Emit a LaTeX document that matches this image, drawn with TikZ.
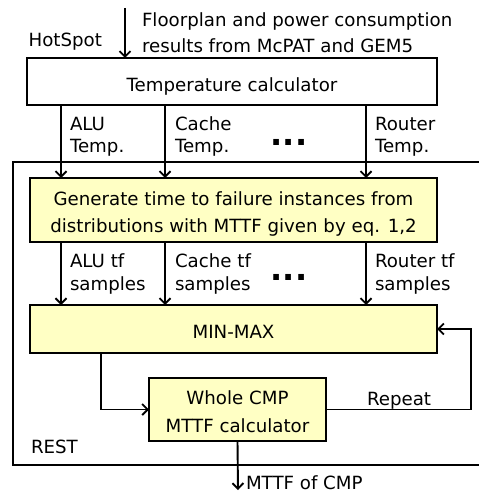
\documentclass[tikz,border=0pt]{standalone}
\usepackage{fontspec}
\setmainfont{DejaVu Sans}
\usetikzlibrary{arrows.meta}
\definecolor{boxfill}{HTML}{FFFFC4}
\tikzset{
  x=1pt, y=-1pt,
  every node/.style={inner sep=0pt, outer sep=0pt},
  txt/.style={font=\fontsize{18.2}{27}\selectfont},
  lbl/.style={font=\fontsize{18.2}{22.5}\selectfont, align=left, anchor=base west},
  blk/.style={draw, line width=1.9pt, align=center, txt},
  arr/.style={line width=1.9pt, -{Straight Barb[length=5.5pt, width=11pt]}},
  dots/.style={font=\fontsize{32}{32}\bfseries\selectfont}
}
\begin{document}
\begin{tikzpicture}
\useasboundingbox (0,0) rectangle (478,494);

% outer REST frame, running past the right edge
\node[draw, line width=1.9pt, minimum width=507pt, minimum height=303pt] (rest) at (266.5,313.5) {};
\node[txt, anchor=base west] (restlbl) at (31,453) {REST};

% blocks
\node[blk, minimum width=410pt, minimum height=47pt] (temp) at (232,81.5) {};
\node[txt, anchor=base] (templbl) at (temp.center |- 0,91.5) {Temperature calculator};
\node[blk, fill=boxfill, minimum width=407pt, minimum height=64pt] (gen) at (233.5,210) {};
\node[txt, align=center, anchor=base] (genlbl) at (gen.center |- 0,232)
  {Generate time to failure instances from\\distributions with MTTF given by eq. 1,2};
\node[blk, fill=boxfill, minimum width=407pt, minimum height=48pt] (minmax) at (233.5,329) {};
\node[txt, anchor=base] (mmlbl) at (minmax.center |- 0,338) {MIN-MAX};
\node[blk, fill=boxfill, minimum width=177pt, minimum height=63pt] (whole) at (237.5,409.5) {};
\node[txt, align=center, anchor=base, font=\fontsize{18.2}{28}\selectfont] (wholelbl) at (whole.center |- 0,432)
  {Whole CMP\\MTTF calculator};

% column positions of the per-unit arrows
\coordinate (c1) at (61,0);
\coordinate (c2) at (165,0);
\coordinate (c3) at (366,0);

% input to HotSpot
\coordinate (in) at (125,8);
\draw[arr] (in) -- (in |- temp.north);
\node[txt, anchor=base east] (hs) at (102,47) {HotSpot};
\node[lbl, font=\fontsize{18.2}{26.5}\selectfont] (inlbl) at (142,53)
  {Floorplan and power consumption\\results from McPAT and GEM5};

% temperatures
\foreach \c in {c1,c2,c3} \draw[arr] (temp.south -| \c) -- (gen.north -| \c);
\node[lbl] (t1) at (70,153) {ALU\\Temp.};
\node[lbl] (t2) at (175,153) {Cache\\Temp.};
\node[lbl] (t3) at (375,153) {Router\\Temp.};
\node[dots] (d1) at (289,142.5) {...};

% time-to-failure samples
\foreach \c in {c1,c2,c3} \draw[arr] (gen.south -| \c) -- (minmax.north -| \c);
\node[lbl] (s1) at (70,290) {ALU tf\\samples};
\node[lbl] (s2) at (175,290) {Cache tf\\samples};
\node[lbl] (s3) at (375,290) {Router tf\\samples};
\node[dots] (d2) at (289,277.5) {...};

% MIN-MAX to the whole-CMP calculator and the repeat loop
\draw[arr] ([xshift=71pt]minmax.south west) |- (whole.west);
\coordinate (loop) at (471,0);
\draw[arr] (whole.east) -| (loop |- minmax.east) -- (minmax.east);
\node[txt, anchor=base west] (rep) at (367,405) {Repeat};

% output
\coordinate (out) at (238,490);
\draw[arr] (whole.south) -- (out);
\node[txt, anchor=base west] (outlbl) at (246,489.5) {MTTF of CMP};
\end{tikzpicture}
\end{document}
